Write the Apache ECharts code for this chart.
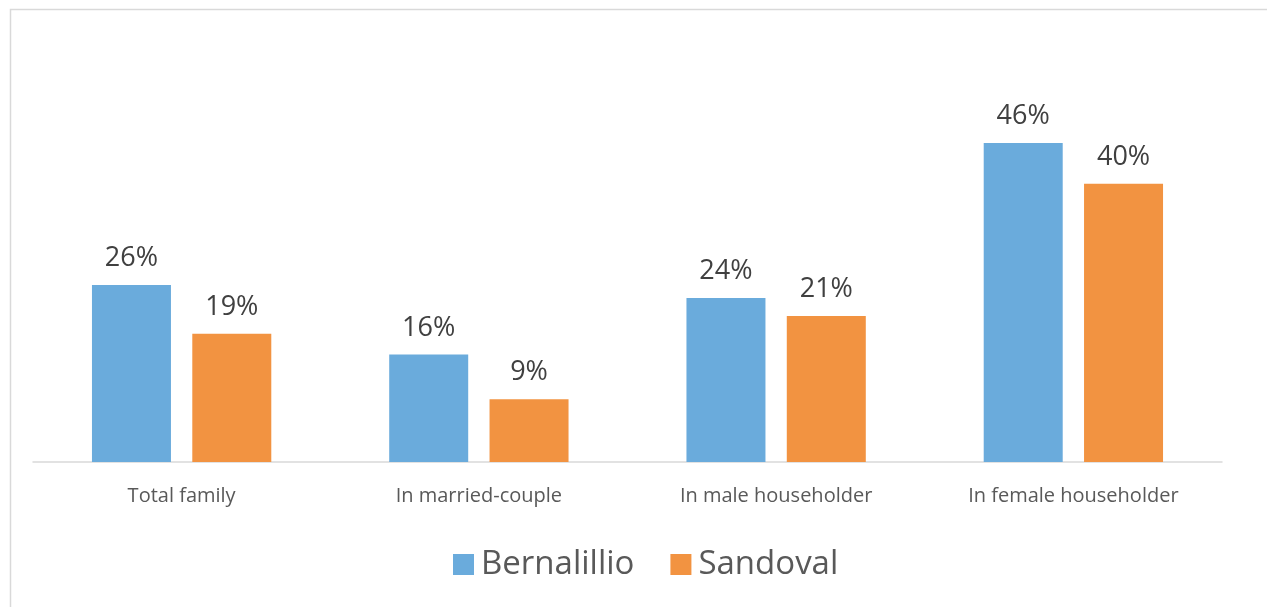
<!DOCTYPE html>
<html>
<head>
<meta charset="utf-8">
<script src="https://cdn.jsdelivr.net/npm/echarts@6/dist/echarts.min.js"></script>
<style>
html,body{margin:0;padding:0;background:#fff;}
#chart{width:1267px;height:607px;}
</style>
</head>
<body>
<div id="chart"></div>
<script>
const categories = ['Total family', 'In married-couple', 'In male householder', 'In female householder'];
const seriesNames = ['Bernalillio', 'Sandoval'];
const bernalillio = [25.7, 15.6, 23.8, 46.3];
const sandoval = [18.6, 9.1, 21.2, 40.4];

const FONT = '"Open Sans", "Noto Sans", sans-serif';
const chart = echarts.init(document.getElementById('chart'));
const labelCfg = {
  show: true, position: 'top', distance: 13,
  formatter: p => Math.round(p.value) + '%',
  color: '#404040', fontSize: 27, fontFamily: FONT
};
chart.setOption({
  animation: false,
  backgroundColor: '#fff',
  graphic: [{
    type: 'rect', left: 8, top: 7,
    shape: { width: 1262, height: 610 },
    style: { fill: 'none', stroke: '#d9d9d9', lineWidth: 1.5 }, silent: true
  }],
  grid: { left: 33, right: 45, top: 117.5, bottom: 145 },
  legend: {
    data: seriesNames, bottom: 21, left: 448,
    itemWidth: 21, itemHeight: 21, itemGap: 36,
    icon: 'rect',
    textStyle: { color: '#595959', fontSize: 33, fontFamily: FONT, padding: [0, 0, 0, 2] }
  },
  xAxis: {
    type: 'category', data: categories,
    axisLine: { lineStyle: { color: '#d9d9d9', width: 1.5 } },
    axisTick: { show: false },
    axisLabel: { color: '#595959', fontSize: 20, fontFamily: FONT, margin: 24 }
  },
  yAxis: {
    type: 'value', min: 0, max: 50, show: false,
    splitLine: { show: false }
  },
  series: [
    { name: seriesNames[0], type: 'bar', data: bernalillio, barWidth: 79, barGap: '27%',
      itemStyle: { color: '#6aabdc' }, label: labelCfg },
    { name: seriesNames[1], type: 'bar', data: sandoval, barWidth: 79,
      itemStyle: { color: '#f29341' }, label: labelCfg }
  ]
});
</script>
</body>
</html>
